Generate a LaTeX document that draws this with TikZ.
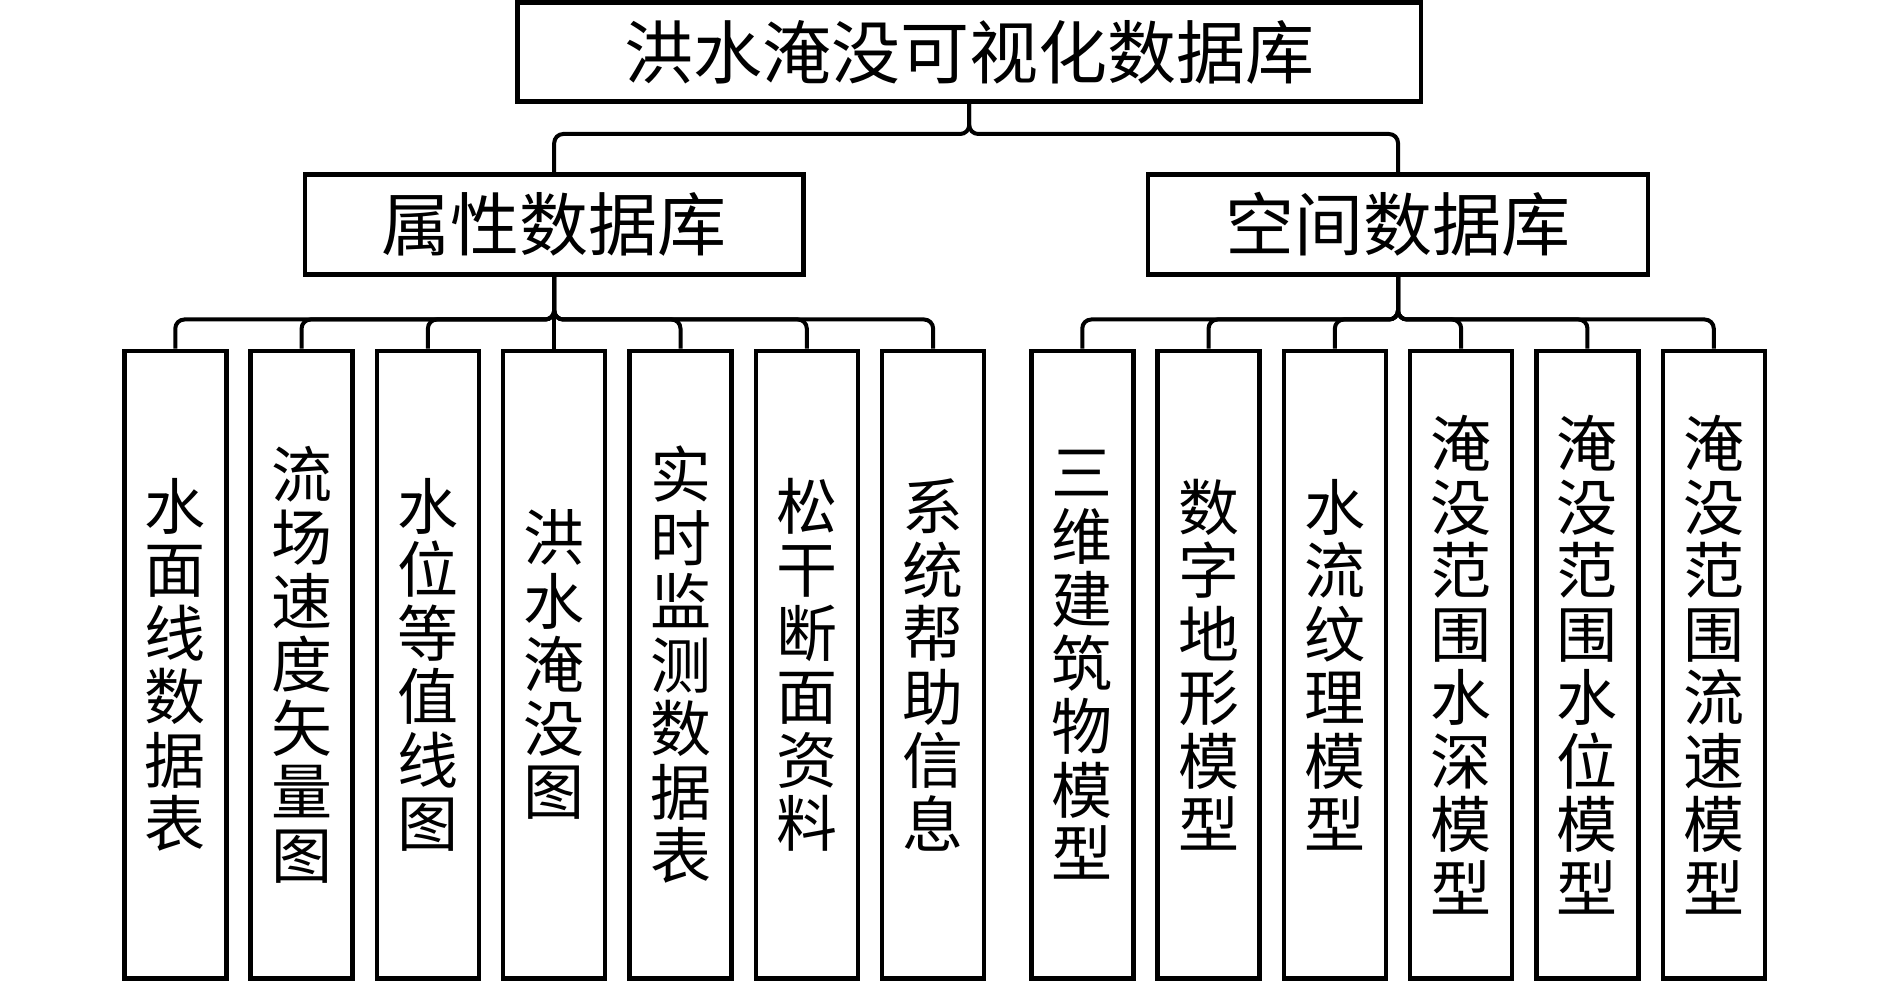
\documentclass[tikz,border=0pt]{standalone}
\usepackage{fontspec}
\newfontfamily\cjk{Noto Sans CJK SC}
\begin{document}
\begin{tikzpicture}[x=1pt,y=-1pt,
  box/.style={draw, line width=4.5pt, inner sep=0pt, align=center},
  bigbox/.style={box, font=\cjk\fontsize{69}{72}\selectfont},
  leaf/.style={box, minimum width=102pt, minimum height=627.5pt, font=\cjk\fontsize{61}{63.5}\selectfont},
  conn/.style={line width=4pt, rounded corners=9pt}]
\useasboundingbox (0,0) rectangle (1889,981);
\node[bigbox, minimum width=903.5pt, minimum height=99pt] (root) at (969.2,52) {洪水淹没可视化数据库};
\node[bigbox, minimum width=498.5pt, minimum height=100pt] (attr) at (554.2,224.7) {属性数据库};
\node[bigbox, minimum width=500pt, minimum height=100pt] (spat) at (1398,224.7) {空间数据库};
% attribute leaves
\node[leaf] (a1) at (175.3,664.75) {水\\面\\线\\数\\据\\表};
\node[leaf] (a2) at (301.6,664.75) {流\\场\\速\\度\\矢\\量\\图};
\node[leaf] (a3) at (427.9,664.75) {水\\位\\等\\值\\线\\图};
\node[leaf] (a4) at (554.2,664.75) {洪\\水\\淹\\没\\图};
\node[leaf] (a5) at (680.5,664.75) {实\\时\\监\\测\\数\\据\\表};
\node[leaf] (a6) at (806.8,664.75) {松\\干\\断\\面\\资\\料};
\node[leaf] (a7) at (933.1,664.75) {系\\统\\帮\\助\\信\\息};
% spatial leaves
\node[leaf] (s1) at (1082.25,664.75) {三\\维\\建\\筑\\物\\模\\型};
\node[leaf] (s2) at (1208.55,664.75) {数\\字\\地\\形\\模\\型};
\node[leaf] (s3) at (1334.85,664.75) {水\\流\\纹\\理\\模\\型};
\node[leaf] (s4) at (1461.15,664.75) {淹\\没\\范\\围\\水\\深\\模\\型};
\node[leaf] (s5) at (1587.45,664.75) {淹\\没\\范\\围\\水\\位\\模\\型};
\node[leaf] (s6) at (1713.75,664.75) {淹\\没\\范\\围\\流\\速\\模\\型};
% connectors
\foreach \c in {attr,spat}
  \draw[conn] (root.south) -- (root.south |- 0,134) -| (\c.north);
\foreach \c in {a1,a2,a3,a5,a6,a7}
  \draw[conn] (attr.south) -- (attr.south |- 0,319.5) -| (\c.north);
\draw[line width=4pt] (attr.south) -- (a4.north);
\foreach \c in {s1,s2,s3,s4,s5,s6}
  \draw[conn] (spat.south) -- (spat.south |- 0,319.5) -| (\c.north);
\end{tikzpicture}
\end{document}
